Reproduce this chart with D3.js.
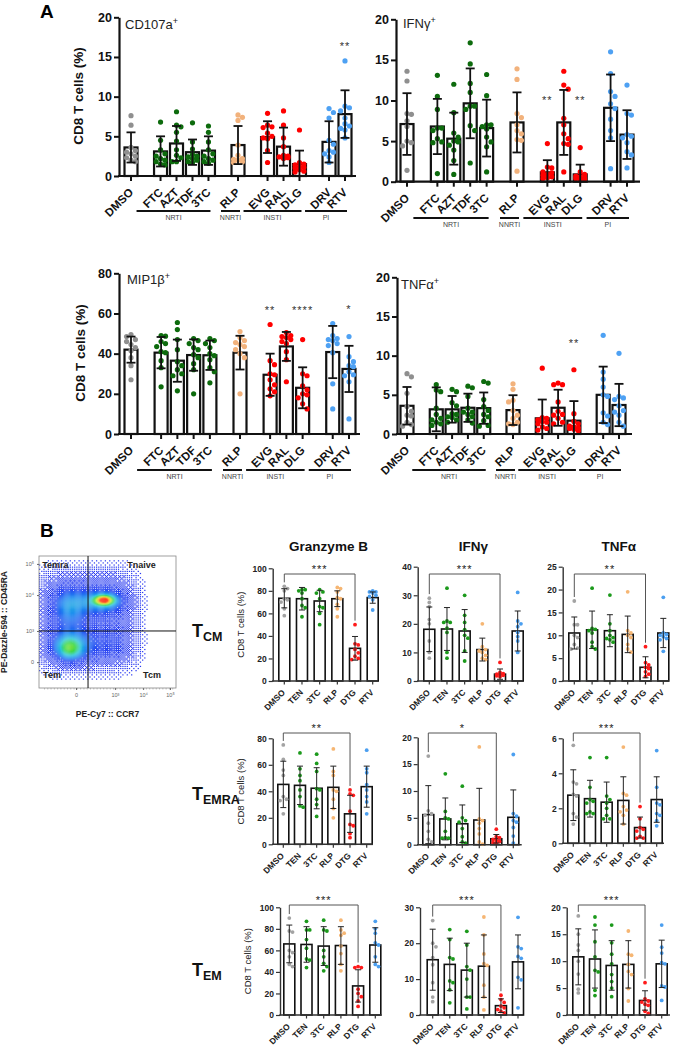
<!DOCTYPE html>
<html><head><meta charset="utf-8">
<script src="https://cdn.jsdelivr.net/npm/d3@7"></script>
<style>body{margin:0;background:#fff}svg{display:block}text{font-family:Arial,"Liberation Sans",sans-serif}</style>
</head><body><svg id="c" width="677" height="1045"></svg>
<script>
// ================= DATA =================
// Panel A categories
const catsA = ["DMSO","FTC","AZT","TDF","3TC","RLP","EVG","RAL","DLG","DRV","RTV"];
const groupA = [0,1,1,1,1,2,3,3,3,4,4];
const classesA = [
  {label:"NRTI", from:"FTC", to:"3TC"},
  {label:"NNRTI", from:"RLP", to:"RLP"},
  {label:"INSTI", from:"EVG", to:"DLG"},
  {label:"PI", from:"DRV", to:"RTV"}
];
// CD107a+
const cd107aMean = [3.6,3.1,4.1,3.0,3.2,3.9,4.9,3.7,1.5,4.3,7.8];
const cd107aSD   = [1.9,1.9,2.2,1.6,1.8,2.4,2.0,2.4,1.7,2.6,3.0];
const cd107aPts = [
  [7.6,6.4,3.6,3.0,2.8,2.5,2.3,2.0,1.8,3.2],
  [6.8,4.5,3.3,2.8,2.5,2.2,2.0,1.8,1.5,1.4],
  [8.1,6.4,6.2,5.5,4.4,3.3,2.6,2.3,1.8,1.8],
  [6.7,4.3,3.4,2.7,2.4,2.2,2.0,1.8,1.7,2.5],
  [6.3,5.5,4.3,3.3,2.8,2.2,2.0,1.8,1.6,2.5],
  [7.7,7.4,7.0,3.9,2.6,2.1,2.0,1.8,1.7,2.2],
  [7.9,6.4,6.2,6.1,5.4,5.0,4.7,3.2,1.7,4.8],
  [8.2,6.4,4.8,3.7,2.5,2.4,2.2,2.3,2.4,2.6],
  [5.8,1.7,1.5,1.4,1.2,1.0,0.8,0.6,0.5,1.1],
  [8.5,8.0,7.3,4.5,4.0,3.2,3.0,2.8,2.4,1.7],
  [14.5,8.8,8.6,8.2,7.3,6.3,6.6,5.8,4.8,6.0]
];
const cd107aStars = [{cat:"RTV", label:"**", at:16.5}];
// IFNg+
const ifngMean = [7.1,6.8,5.3,9.65,6.6,7.3,1.15,7.3,0.9,9.1,5.8];
const ifngSD   = [3.8,3.4,3.2,4.3,3.5,3.7,1.5,4.0,1.2,4.1,3.0];
const ifngPts = [
  [13.6,12.4,8.4,8.3,7.5,6.8,5.0,4.8,4.4,1.4],
  [13.1,10.5,8.9,6.6,6.6,6.3,5.3,4.8,1.0,4.9],
  [12.0,8.5,6.0,5.5,5.0,4.9,4.5,3.9,2.6,0.9],
  [17.1,14.5,12.1,11.0,9.3,9.3,8.9,6.9,6.3,2.3],
  [13.2,10.6,7.0,7.0,6.8,6.5,5.5,4.9,4.3,1.2],
  [13.9,12.6,8.4,7.9,7.0,6.3,5.9,5.2,5.1,1.3],
  [4.7,1.8,1.7,1.2,1.1,0.9,0.8,0.6,0.5,0.4],
  [13.6,11.9,11.4,7.8,7.0,5.9,5.3,4.6,4.7,1.2],
  [4.2,1.2,0.9,0.7,0.6,0.5,0.4,0.3,0.3,0.4],
  [16.0,13.3,11.1,10.5,9.6,9.0,7.7,6.3,5.4,1.6],
  [11.9,8.4,8.2,5.8,5.6,5.4,4.8,3.7,3.3,1.7]
];
const ifngStars = [{cat:"EVG", label:"**", at:10.2},{cat:"DLG", label:"**", at:10.2}];
// MIP1b+
const mipMean = [42,40.5,36.5,39.3,39.2,40.5,29.5,43.6,23,40.8,32.4];
const mipSD   = [6.5,7.8,10.5,7.8,7.3,8.4,10.5,7.2,10.2,13,11.5];
const mipPts = [
  [49.5,48.5,47,46,44.5,43,41.5,38,34,27],
  [49,48.7,46,45,43.5,41,40.5,36.5,33,23.5],
  [55.5,52,47,42,36,34,32,30,29,21.5],
  [47.5,46.5,45,43,42,39.5,38,35,32,20],
  [47.5,46.5,45,43,40,39,37,33,31,25.5],
  [51,48,46.5,45.5,44.5,43.5,42,40,38,20],
  [54.5,36.5,34.5,30,29.5,27,24.5,22.5,21,19],
  [50.5,49,48.5,48,47,46,45,41,37,26],
  [47,30,29,24,22,20,19.5,18,15,12.5],
  [55,49,47.5,47,46.5,45,44,40.5,25,12.5],
  [48.5,38.5,36,34,33.5,31,29.5,29,26,7.5]
];
const mipStars = [{cat:"EVG", label:"**", at:62},{cat:"DLG", label:"****", at:62},{cat:"RTV", label:"*", at:62.5}];
// TNFa+
const tnfMean = [3.6,3.15,3.15,3.35,3.3,3.05,2.0,3.35,1.7,5.0,3.7];
const tnfSD   = [2.4,2.8,1.7,1.8,2.0,1.9,2.4,2.3,2.5,3.6,2.7];
const tnfPts = [
  [7.7,7.3,5.2,3.5,2.9,2.4,2.3,1.5,1.2,1.0],
  [6.3,5.6,5.4,3.3,2.5,2.0,1.8,1.5,1.3,1.1],
  [5.7,5.4,4.0,3.6,2.6,2.5,2.2,2.1,1.8,1.5],
  [6.1,5.9,4.8,3.3,2.8,2.8,2.5,2.2,1.8,1.4],
  [6.7,6.5,4.4,3.5,3.0,2.5,2.2,1.7,1.1,1.0],
  [6.4,5.7,4.3,4.1,3.0,2.4,2.0,1.5,1.3,1.2],
  [8.4,2.1,2.0,1.8,1.6,1.5,1.3,0.9,0.7,0.5],
  [6.5,6.3,6.3,4.1,2.9,2.5,2.4,2.0,1.5,1.3],
  [8.2,2.6,1.6,1.3,1.0,0.9,0.8,0.7,0.6,0.4],
  [12.6,7.9,7.0,6.0,5.0,4.8,2.7,2.3,1.5,1.2],
  [10.3,4.8,4.6,4.4,3.6,3.0,2.8,2.4,1.5,1.0]
];
const tnfStars = [{cat:"DLG", label:"**", at:11.7}];

// Panel B categories
const catsB = ["DMSO","TEN","3TC","RLP","DTG","RTV"];
const headersB = ["Granzyme B","IFNγ","TNFα"];
const rowsB = [{main:"T", sub:"CM"},{main:"T", sub:"EMRA"},{main:"T", sub:"EM"}];
// TCM
const gzbTcmMean = [73.4,73,71,73,29,74];
const gzbTcmSD = [8.5,10,9.5,7,10.5,5];
const gzbTcmPts = [[84,82,80,73,72,70,64,58],[81,81,80,78,73,67,65,57],[81,79,78,73,66,65,60,50],[83,82,79,74,73,68,64,57],[50,33,32,28,25,22,20,19],[80,79,79,78,76,75,72,63]];
const ifngTcmMean = [18.1,18.2,17.5,11,2.4,17.5];
const ifngTcmSD = [7.8,7.5,7.5,4,1.8,7];
const ifngTcmPts = [[29,27.5,26,21.5,20,14,10,8],[32.5,21,20.5,20.5,18.5,17,10,8],[30,23,20.5,18,16,15,10.5,7],[20,12,11,10.5,10,9,8,7.5],[6.5,3,2.6,2.4,2.2,2,1.8,1.5],[31,21,20,19,17,15.5,14,10]];
const tnfTcmMean = [10.5,11.2,11,10.2,3,10.5];
const tnfTcmSD = [3.5,4.1,3.5,4,2.3,3.2];
const tnfTcmPts = [[17.5,12.3,12.3,10,9.5,8,7.2,7],[20.3,11.5,11.3,11,10.5,8.5,7.5,7],[18.8,12.5,11,10,9.5,9.3,9,8.5],[19.5,11,10.5,10,9.5,8,7,6.3],[7.5,4,3.5,3,2.7,2,1.5,1],[18.3,10.5,10.2,10,9.7,9.3,9,6.5]];
// TEMRA
const gzbTemraMean = [45.2,44.5,42.3,43,23,43.5];
const gzbTemraSD = [17.5,14.5,15.5,16,14,15.5];
const gzbTemraPts = [[75,64,56,52,36,34,33,23],[69,57,52,48,41,36,29,28],[68,61,55,42,41,34,30,21],[72,55,52,41,40,34,27,20],[41,38,37,25,15,14,8,5],[71,57,54,45,41,36,32,23]];
const ifngTemraMean = [5.6,4.8,3.9,4.6,1.1,5.1];
const ifngTemraSD = [5.4,3.9,3.5,5.9,0.8,5.1];
const ifngTemraPts = [[16.5,6.3,5.8,5.5,4,2.5,1,0.5],[13.2,6.2,5,4.8,2.5,1.3,1.2,1.2],[10.9,5,4.5,4.2,3,1.5,0.5,0.3],[18.2,4.8,4.5,4,3,2,0.5,0.1],[2.9,1.5,1.3,1.0,0.8,0.6,0.4,0.3],[16.8,5.8,5.3,4.5,4.2,3.2,1.6,0.3]];
const tnfTemraMean = [2.75,2.55,2.35,2.45,0.9,2.5];
const tnfTemraSD = [1.45,1.05,1.15,1.35,0.6,1.3];
const tnfTemraPts = [[5.6,3.5,3.4,2.8,2.7,1.7,1.5,1.1],[4.9,3.2,2.5,2.4,2.3,1.8,1.7,1.7],[4.9,2.7,2.5,2.3,2,1.6,1.4,1.4],[5.5,2.85,2.75,2.1,1.9,1.8,1.6,1.1],[2.1,1.4,0.9,0.8,0.7,0.4,0.3,0.3],[5.3,3.2,2.3,2.2,1.7,1.6,1.3,1.0]];
// TEM
const gzbTemMean = [66,65.5,64,64.5,27,65];
const gzbTemSD = [17.5,16.5,18,17.5,15,16];
const gzbTemPts = [[90,78,77,60,58,54,47,45],[87,79,79,70,62,52,51,44],[88,79,78,60,54,48,45,41],[88,79,76,74,64,57,47,41],[45,44,44,24,20,17,13,8],[87,80,76,67,65,54,47,45]];
const ifngTemMean = [15.4,14.1,12.5,13.6,2.6,14.8];
const ifngTemSD = [8.5,7.3,7.5,8.7,1.9,7.5];
const ifngTemPts = [[26.3,20,19,16,14,9,5,3.7],[23.8,21,16,15.6,9.5,9,7,3.4],[23.3,19.5,13.5,12.5,10,5,5,1.7],[27.3,22.3,17,14.3,13.8,8.3,5,1.4],[5.5,4.3,3.5,2.5,2,1.5,1,0.6],[27.2,19,18.5,16.3,15.8,10.5,9.8,2]];
const tnfTemMean = [10.8,10.4,9.2,9.4,2.7,9.5];
const tnfTemSD = [5.2,5.4,4.6,4.4,1.8,4.4];
const tnfTemPts = [[18.4,15,13,12,10,7.6,4.8,4.1],[18.2,16.7,13.6,10.8,8.3,8,4.6,3.6],[16.7,13.4,11.3,9.5,7.5,6.2,5,3.4],[15.6,11.3,11.1,9.4,8.1,7.5,4.9,2.6],[6,3,2.6,2.4,2,1.8,0.7,0.3],[16.7,12.6,11.5,9.7,9.5,5.4,5.2,2.7]];
const starsB = ["***","***","**","**","*","***","***","***","***"];

// Flow cytometry density clusters (display units, 0-5 on each axis; p = shape exponent)
const flowClusters = [
  {x:1.75,y:2.62,sx:1.55,sy:1.62,w:0.17,p:4},
  {x:1.10,y:3.10,sx:0.45,sy:0.50,w:0.15,p:2},
  {x:1.13,y:1.55,sx:0.52,sy:0.45,w:0.20,p:2},
  {x:1.13,y:1.52,sx:0.27,sy:0.24,w:0.18,p:2},
  {x:2.37,y:3.30,sx:0.55,sy:0.30,w:0.20,p:2},
  {x:2.37,y:3.33,sx:0.22,sy:0.11,w:0.55,p:2},
  {x:2.37,y:3.33,sx:0.10,sy:0.06,w:0.40,p:2},
  {x:2.60,y:1.55,sx:0.55,sy:0.40,w:0.06,p:2}
];
const flowXTicks = [1.35,2.77,3.8,4.78];
const flowYTicks = [0.98,2.16,3.52,4.7];
const flowTickLabels = ["0","10³","10⁴","10⁵"];
const flowGate = {x:1.79, y:2.16};
const flowQuadrants = [
  {label:"Temra", x:0.12, y:4.55},
  {label:"Tnaive", x:3.22, y:4.55},
  {label:"Tem", x:0.15, y:0.38},
  {label:"Tcm", x:3.8, y:0.38}
];

// ================= STYLE / LAYOUT =================
const colorA = ["#8f8f8f","#0d6b0d","#0d6b0d","#0d6b0d","#0d6b0d","#f2b27c","#ff0000","#ff0000","#ff0000","#4ea1f3","#4ea1f3"];
const colorB = ["#a3a3a3","#1c9a1c","#1c9a1c","#f6b673","#ff1a1a","#4b9ff0"];
const layoutA = {
  cd107a:{axisX:119,first:131,last:345,end:356,top:17.3,bot:176,max:20,step:5,groupY:211,titleX:125,titleY:29},
  ifng:{axisX:396,first:407,last:627,end:640,top:19.3,bot:181.7,max:20,step:5,groupY:218,titleX:403,titleY:28},
  mip:{axisX:119,first:131,last:349,end:360,top:273.3,bot:434,max:80,step:20,groupY:470,titleX:127,titleY:284},
  tnf:{axisX:397,first:407,last:619,end:632,top:277.3,bot:434,max:20,step:5,groupY:470,titleX:401,titleY:289}
};
const layoutB = [
  {axisX:272.7,first:284.3,last:372.7,end:378,top:568.3,bot:681,max:100,step:20,bracketY:574},
  {axisX:417.7,first:429.3,last:517.7,end:523,top:566.7,bot:681,max:40,step:10,bracketY:574},
  {axisX:562.7,first:574.3,last:663.3,end:669,top:566.7,bot:681,max:25,step:5,bracketY:574},
  {axisX:272.7,first:283.3,last:366.7,end:373,top:738.3,bot:844.3,max:80,step:20,bracketY:733},
  {axisX:417.7,first:428.3,last:513.3,end:521.7,top:737.3,bot:844.7,max:20,step:5,bracketY:733},
  {axisX:562.7,first:573.3,last:656.7,end:664,top:738.3,bot:843.3,max:6,step:2,bracketY:733},
  {axisX:280,first:289.3,last:375.3,end:381.7,top:907.3,bot:1015,max:100,step:20,bracketY:905},
  {axisX:420,first:432.7,last:518,end:523,top:907.3,bot:1015,max:30,step:10,bracketY:905},
  {axisX:566.7,first:578.3,last:661.7,end:670,top:907.3,bot:1015,max:20,step:5,bracketY:905}
];

const svg = d3.select("#c");

// deterministic beeswarm placement
function swarm(vals, y, cx, r, maxHalf){
  const order = vals.map((v,i)=>({v,i,py:y(v)})).sort((a,b)=>a.py-b.py);
  const placed=[], out=new Array(vals.length);
  const step = r*1.7;
  const cands=[0];
  for(let k=1;k*step<=maxHalf+0.01;k++){cands.push(k*step,-k*step);}
  for(const p of order){
    let best=null,bestD=-1;
    for(const off of cands){
      const px=cx+off;
      let md=Infinity;
      for(const q of placed){md=Math.min(md,Math.hypot(q.x-px,q.y-p.py));}
      if(md>=2*r*0.98){best=px;bestD=Infinity;break;}
      if(md>bestD){bestD=md;best=px;}
    }
    placed.push({x:best,y:p.py}); out[p.i]={x:best,y:p.py};
  }
  return out;
}

function drawBars(g, cats, x, y, mean, sd, pts, colors, opt){
  g.append("g").selectAll("rect").data(cats).join("rect")
    .attr("x",d=>x(d)-opt.bw/2).attr("y",(d,i)=>y(mean[i]))
    .attr("width",opt.bw).attr("height",(d,i)=>y(0)-y(mean[i]))
    .attr("fill","#fff").attr("stroke","#111").attr("stroke-width",opt.barStroke);
  cats.forEach((c,i)=>{
    const s = swarm(pts[i], y, x(c), opt.r, opt.spread);
    g.append("g").selectAll("circle").data(s).join("circle")
      .attr("cx",d=>d.x).attr("cy",d=>d.y).attr("r",opt.r).attr("fill",colors[i]);
  });
  const eg = g.append("g").attr("stroke",opt.errColor).attr("stroke-width",opt.errW);
  cats.forEach((c,i)=>{
    const lo = Math.max(0,mean[i]-sd[i]), hi = mean[i]+sd[i];
    const cx = x(c);
    eg.append("line").attr("x1",cx).attr("x2",cx).attr("y1",y(lo)).attr("y2",y(hi));
    eg.append("line").attr("x1",cx-opt.cap/2).attr("x2",cx+opt.cap/2).attr("y1",y(hi)).attr("y2",y(hi));
    if(mean[i]-sd[i]>0) eg.append("line").attr("x1",cx-opt.cap/2).attr("x2",cx+opt.cap/2).attr("y1",y(lo)).attr("y2",y(lo));
  });
}

// ================= PANEL A =================
function drawPanelA(cfg, mean, sd, pts, stars, title){
  const g = svg.append("g");
  const posVal = catsA.map((c,i)=>i+0.85*groupA[i]);
  const ps = d3.scaleLinear().domain([0,d3.max(posVal)]).range([cfg.first,cfg.last]);
  const x = d3.scaleOrdinal().domain(catsA).range(posVal.map(ps));
  const y = d3.scaleLinear().domain([0,cfg.max]).range([cfg.bot,cfg.top]);
  drawBars(g, catsA, x, y, mean, sd, pts, colorA, {bw:13,barStroke:2.2,r:2.6,spread:6.5,errColor:"#111",errW:1.8,cap:9});
  const ya = g.append("g").attr("transform",`translate(${cfg.axisX},0)`)
    .call(d3.axisLeft(y).tickValues(d3.range(0,cfg.max+1e-9,cfg.step)).tickFormat(d3.format("d")).tickSize(5).tickSizeOuter(0).tickPadding(2));
  ya.select(".domain").attr("stroke","#111").attr("stroke-width",2.2);
  ya.selectAll(".tick line").attr("stroke","#111").attr("stroke-width",2);
  ya.selectAll(".tick text").attr("font-size",12.5).attr("font-weight","bold").attr("fill","#111").attr("font-family","Arial");
  g.append("line").attr("x1",cfg.axisX-1).attr("x2",cfg.end).attr("y1",y(0)).attr("y2",y(0)).attr("stroke","#111").attr("stroke-width",2.2);
  g.append("g").selectAll("line").data(catsA).join("line")
    .attr("x1",d=>x(d)).attr("x2",d=>x(d)).attr("y1",y(0)).attr("y2",y(0)+5).attr("stroke","#111").attr("stroke-width",2);
  g.append("g").selectAll("text").data(catsA).join("text")
    .attr("transform",d=>`translate(${x(d)+3},${y(0)+17}) rotate(-45)`)
    .attr("text-anchor","end").attr("font-size",11.5).attr("font-weight","bold").attr("fill","#111").text(d=>d);
  classesA.forEach(cl=>{
    const x1 = x(cl.from)-(cl.label==="NNRTI"?17:24), x2 = x(cl.to)+2;
    g.append("line").attr("x1",x1).attr("x2",x2).attr("y1",cfg.groupY).attr("y2",cfg.groupY).attr("stroke","#111").attr("stroke-width",2);
    g.append("text").attr("x",(x1+x2)/2).attr("y",cfg.groupY+9).attr("text-anchor","middle")
      .attr("font-size",7).attr("fill","#444").text(cl.label);
  });
  const t = g.append("text").attr("x",cfg.titleX).attr("y",cfg.titleY).attr("font-size",13).attr("fill","#222").text(title);
  t.append("tspan").attr("dy",-5).attr("font-size",9).text("+");
  g.append("g").selectAll("text").data(stars).join("text")
    .attr("x",d=>x(d.cat)).attr("y",d=>y(d.at)+5).attr("text-anchor","middle")
    .attr("font-size",11).attr("fill","#333").attr("letter-spacing",1).text(d=>d.label);
}
drawPanelA(layoutA.cd107a, cd107aMean, cd107aSD, cd107aPts, cd107aStars, "CD107a");
drawPanelA(layoutA.ifng, ifngMean, ifngSD, ifngPts, ifngStars, "IFNγ");
drawPanelA(layoutA.mip, mipMean, mipSD, mipPts, mipStars, "MIP1β");
drawPanelA(layoutA.tnf, tnfMean, tnfSD, tnfPts, tnfStars, "TNFα");

[[83,96],[85,353]].forEach(([px,py])=>{
  svg.append("text").attr("transform",`translate(${px},${py}) rotate(-90)`).attr("text-anchor","middle")
    .attr("font-size",13.5).attr("font-weight","bold").attr("fill","#111").text("CD8 T cells (%)");
});
svg.append("text").attr("x",40).attr("y",18).attr("font-size",19).attr("font-weight","bold").text("A");
svg.append("text").attr("x",40).attr("y",537).attr("font-size",19).attr("font-weight","bold").text("B");

// ================= FLOW PLOT =================
(function(){
  const g = svg.append("g");
  const xF = d3.scaleLinear().domain([0,5]).range([39,176]);
  const yF = d3.scaleLinear().domain([0,5]).range([688,556]);
  const dens=(a,b)=>{let s=0;for(const c of flowClusters){const dx=Math.abs(a-c.x)/c.sx,dy=Math.abs(b-c.y)/c.sy;s+=c.w*Math.exp(-0.5*(Math.pow(dx,c.p)+Math.pow(dy,c.p)));}return s;};
  const col = d3.scaleLinear().domain([0.1,0.22,0.3,0.38,0.48,0.62,0.8,1.0])
    .range(["#2a3af0","#2a48f2","#1e8cf0","#2cc8d8","#3cd84c","#c8e830","#ffa010","#ff2200"]).clamp(true);
  const bayer=[[0,8,2,10],[12,4,14,6],[3,11,1,9],[15,7,13,5]];
  const cells=[]; const st=0.04; const n=Math.round(5/st);
  for(let i=0;i<n;i++){for(let j=0;j<n;j++){
    const a=i*st,b=j*st,d=dens(a+st/2,b+st/2);
    const thr=(bayer[i%4][j%4]+0.5)/16;
    if(d>=0.26 || (d>0.02 && d/0.26>thr)) cells.push({a,b,d});
  }}
  g.append("g").selectAll("rect").data(cells).join("rect")
    .attr("x",d=>xF(d.a)).attr("y",d=>yF(d.b+st)).attr("width",xF(st)-xF(0)+0.15).attr("height",yF(0)-yF(st)+0.15)
    .attr("fill",d=>col(d.d));
  g.append("rect").attr("x",xF(0)).attr("y",yF(5)).attr("width",xF(5)-xF(0)).attr("height",yF(0)-yF(5))
    .attr("fill","none").attr("stroke","#888").attr("stroke-width",0.8);
  g.append("line").attr("x1",xF(flowGate.x)).attr("x2",xF(flowGate.x)).attr("y1",yF(5)).attr("y2",yF(0)).attr("stroke","#111").attr("stroke-width",1);
  g.append("line").attr("x1",xF(0)).attr("x2",xF(5)).attr("y1",yF(flowGate.y)).attr("y2",yF(flowGate.y)).attr("stroke","#111").attr("stroke-width",1);
  const xa = g.append("g").attr("transform",`translate(0,${yF(0)})`).call(d3.axisBottom(xF).tickValues(flowXTicks).tickFormat((d,i)=>flowTickLabels[i]).tickSize(2).tickSizeOuter(0));
  xa.select(".domain").remove();
  xa.selectAll("text").attr("font-size",5.5).attr("fill","#666");
  xa.selectAll("line").attr("stroke","#666");
  const ya = g.append("g").attr("transform",`translate(${xF(0)},0)`).call(d3.axisLeft(yF).tickValues(flowYTicks).tickFormat((d,i)=>flowTickLabels[i]).tickSize(2).tickSizeOuter(0));
  ya.select(".domain").remove();
  ya.selectAll("text").attr("font-size",5.5).attr("fill","#666");
  ya.selectAll("line").attr("stroke","#666");
  const minor = d3.range(0.2,5,0.12);
  g.append("g").selectAll("line").data(minor).join("line").attr("x1",d=>xF(d)).attr("x2",d=>xF(d))
    .attr("y1",yF(0)).attr("y2",yF(0)+1.5).attr("stroke","#888").attr("stroke-width",0.5);
  g.append("g").selectAll("text").data(flowQuadrants).join("text")
    .attr("x",d=>xF(d.x)).attr("y",d=>yF(d.y))
    .attr("font-size",9).attr("font-weight","bold").attr("fill","#222").text(d=>d.label);
  g.append("text").attr("x",107.5).attr("y",717).attr("text-anchor","middle").attr("font-size",8.5).attr("font-weight","bold").attr("fill","#222").text("PE-Cy7 :: CCR7");
  g.append("text").attr("transform","translate(7,622) rotate(-90)").attr("text-anchor","middle").attr("font-size",8.5).attr("font-weight","bold").attr("fill","#222").text("PE-Dazzle-594 :: CD45RA");
})();

// ================= PANEL B =================
const dataB = [
  [gzbTcmMean,gzbTcmSD,gzbTcmPts],[ifngTcmMean,ifngTcmSD,ifngTcmPts],[tnfTcmMean,tnfTcmSD,tnfTcmPts],
  [gzbTemraMean,gzbTemraSD,gzbTemraPts],[ifngTemraMean,ifngTemraSD,ifngTemraPts],[tnfTemraMean,tnfTemraSD,tnfTemraPts],
  [gzbTemMean,gzbTemSD,gzbTemPts],[ifngTemMean,ifngTemSD,ifngTemPts],[tnfTemMean,tnfTemSD,tnfTemPts]
];
function drawPanelB(cfg, mean, sd, pts, star, withLabel){
  const g = svg.append("g");
  const x = d3.scalePoint().domain(catsB).range([cfg.first,cfg.last]);
  const y = d3.scaleLinear().domain([0,cfg.max]).range([cfg.bot,cfg.top]);
  drawBars(g, catsB, x, y, mean, sd, pts, colorB, {bw:11,barStroke:1.6,r:1.9,spread:4.5,errColor:"#222",errW:1,cap:6});
  const ya = g.append("g").attr("transform",`translate(${cfg.axisX},0)`)
    .call(d3.axisLeft(y).tickValues(d3.range(0,cfg.max+1e-9,cfg.step)).tickFormat(d3.format("d")).tickSize(4).tickSizeOuter(0).tickPadding(2));
  ya.select(".domain").attr("stroke","#333").attr("stroke-width",1.4);
  ya.selectAll(".tick line").attr("stroke","#333").attr("stroke-width",1.2);
  ya.selectAll(".tick text").attr("font-size",8.5).attr("font-weight","bold").attr("fill","#222").attr("font-family","Arial");
  g.append("line").attr("x1",cfg.axisX-0.7).attr("x2",cfg.end).attr("y1",y(0)).attr("y2",y(0)).attr("stroke","#333").attr("stroke-width",1.4);
  g.append("g").selectAll("line").data(catsB).join("line")
    .attr("x1",d=>x(d)).attr("x2",d=>x(d)).attr("y1",y(0)).attr("y2",y(0)+3.5).attr("stroke","#333").attr("stroke-width",1.2);
  g.append("g").selectAll("text").data(catsB).join("text")
    .attr("transform",d=>`translate(${x(d)+1.5},${y(0)+12}) rotate(-45)`)
    .attr("text-anchor","end").attr("font-size",8.5).attr("font-weight","bold").attr("fill","#222").text(d=>d);
  const i0 = catsB.indexOf("DMSO"), i1 = catsB.indexOf("DTG");
  const l0 = y(Math.max(d3.max(pts[i0]),mean[i0]+sd[i0]))-4;
  const l1 = y(Math.max(d3.max(pts[i1]),mean[i1]+sd[i1]))-4;
  g.append("path").attr("d",`M${x("DMSO")},${l0}V${cfg.bracketY}H${x("DTG")}V${l1}`)
    .attr("fill","none").attr("stroke","#555").attr("stroke-width",1);
  g.append("text").attr("x",(x("DMSO")+x("DTG"))/2).attr("y",cfg.bracketY-1).attr("text-anchor","middle")
    .attr("font-size",11).attr("fill","#222").attr("letter-spacing",1).text(star);
  if(withLabel){
    g.append("text").attr("transform",`translate(${cfg.axisX-29},${(cfg.top+cfg.bot)/2}) rotate(-90)`)
      .attr("text-anchor","middle").attr("font-size",9.5).attr("fill","#222").text("CD8 T cells (%)");
  }
}
layoutB.forEach((cfg,k)=>drawPanelB(cfg, dataB[k][0], dataB[k][1], dataB[k][2], starsB[k], k%3===0));

[0,1,2].forEach(c=>{
  const cfg = layoutB[c];
  svg.append("text").attr("x",(cfg.first+cfg.last)/2).attr("y",551).attr("text-anchor","middle")
    .attr("font-size",13.5).attr("font-weight","bold").attr("fill","#111").text(headersB[c]);
});
[637,800,976].forEach((yy,k)=>{
  const t = svg.append("text").attr("x",192).attr("y",yy).attr("font-size",18).attr("font-weight","bold").attr("fill","#111").text(rowsB[k].main);
  t.append("tspan").attr("dy",4).attr("font-size",12.5).text(rowsB[k].sub);
});
</script></body></html>
